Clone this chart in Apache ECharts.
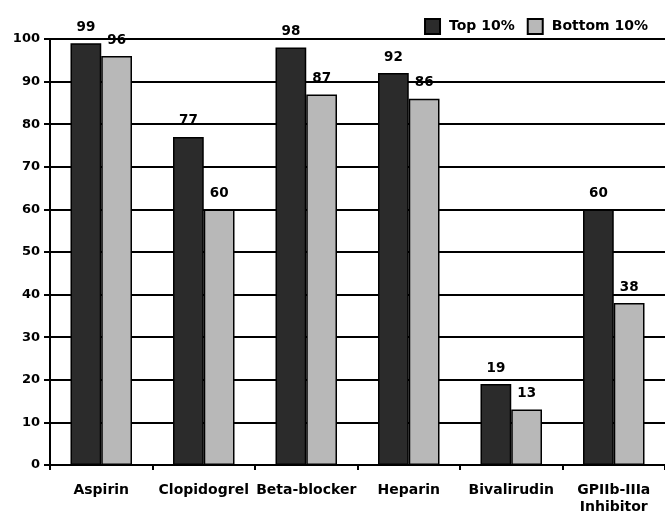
<!DOCTYPE html>
<html>
<head>
<meta charset="utf-8">
<script src="https://cdn.jsdelivr.net/npm/echarts@6/dist/echarts.min.js"></script>
<style>
  html, body { margin: 0; padding: 0; background: #fff; }
  #chart { width: 665px; height: 512px; }
</style>
</head>
<body>
<div id="chart"></div>
<script>
// Therapy usage (%) in top vs bottom performing hospitals
const categories = ['Aspirin', 'Clopidogrel', 'Beta-blocker', 'Heparin', 'Bivalirudin', 'GPIIb-IIIa\nInhibitor'];
const top10 = [99, 77, 98, 92, 19, 60];
const bottom10 = [96, 60, 87, 86, 13, 38];
const seriesNames = ['Top 10%', 'Bottom 10%'];

const FONT = 'DejaVu Sans';
const labelStyle = {
  show: true,
  position: 'top',
  distance: 9,
  color: '#000',
  fontFamily: FONT,
  fontWeight: 'bold',
  fontSize: 13.5
};

const chart = echarts.init(document.getElementById('chart'), null, { renderer: 'canvas' });
chart.setOption({
  animation: false,
  backgroundColor: '#fff',
  grid: { left: 50, right: 0, top: 39, bottom: 47, containLabel: false, outerBoundsMode: 'none' },
  legend: {
    data: seriesNames,
    icon: 'rect',
    right: 12,
    top: 13,
    itemWidth: 15,
    itemHeight: 15,
    itemGap: 12,
    textStyle: {
      color: '#000', fontFamily: FONT, fontWeight: 'bold', fontSize: 14,
      padding: [0, 0, 0, 4]
    }
  },
  xAxis: {
    type: 'category',
    data: categories,
    axisLine: { lineStyle: { color: '#000', width: 2 } },
    axisTick: { show: true, length: 5, lineStyle: { color: '#000', width: 2 } },
    axisLabel: {
      color: '#000', fontFamily: FONT, fontWeight: 'bold', fontSize: 14,
      margin: 17, lineHeight: 17, interval: 0
    }
  },
  yAxis: {
    type: 'value',
    min: 0,
    max: 100,
    interval: 10,
    axisLine: { show: true, lineStyle: { color: '#000', width: 2 } },
    axisTick: { show: true, length: 6, lineStyle: { color: '#000', width: 2 } },
    splitLine: { show: true, lineStyle: { color: '#000', width: 2 } },
    axisLabel: { color: '#000', fontFamily: FONT, fontWeight: 'bold', fontSize: 13, margin: 10 }
  },
  series: [
    {
      name: seriesNames[0],
      type: 'bar',
      data: top10,
      barGap: '0%',
      barCategoryGap: '40%',
      itemStyle: { color: '#2b2b2b', borderColor: '#000', borderWidth: 1.5 },
      label: labelStyle
    },
    {
      name: seriesNames[1],
      type: 'bar',
      data: bottom10,
      itemStyle: { color: '#b8b8b8', borderColor: '#000', borderWidth: 1.5 },
      label: labelStyle
    }
  ]
});
</script>
</body>
</html>
